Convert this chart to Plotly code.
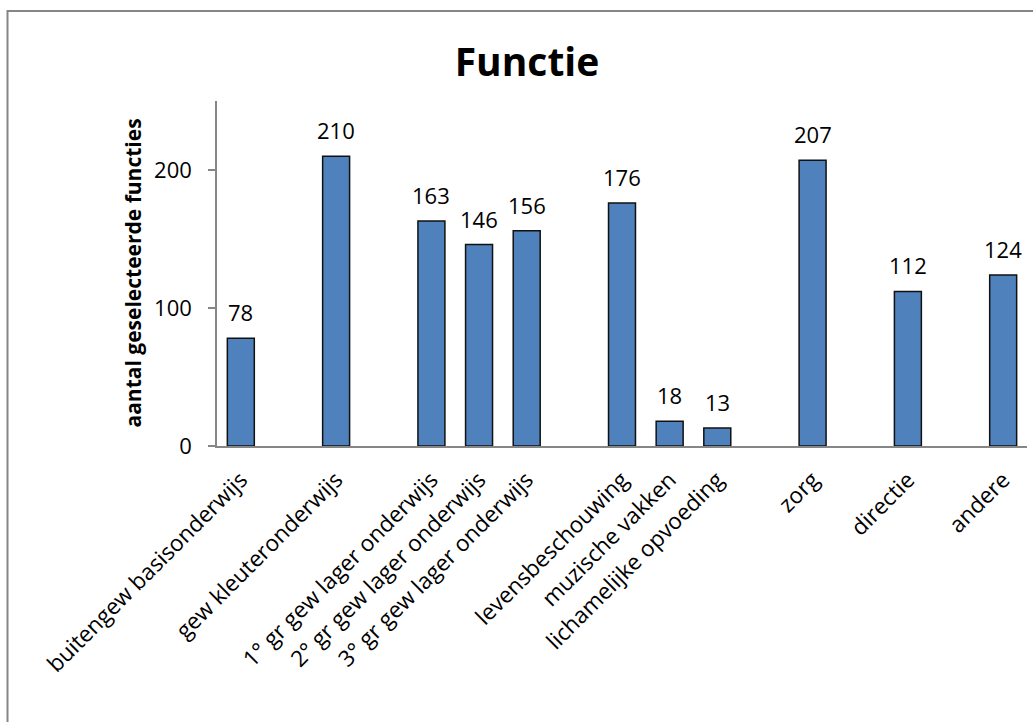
import plotly.graph_objects as go

# Functions selected; blank slots keep the group spacing on the category axis
categories = [
    "buitengew basisonderwijs", " ",
    "gew kleuteronderwijs", "  ",
    "1° gr gew lager onderwijs", "2° gr gew lager onderwijs", "3° gr gew lager onderwijs", "   ",
    "levensbeschouwing", "muzische vakken", "lichamelijke opvoeding", "    ",
    "zorg", "     ",
    "directie", "      ",
    "andere",
]
values = [78, None, 210, None, 163, 146, 156, None, 176, 18, 13, None, 207, None, 112, None, 124]
y_ticks = [0, 100, 200]

W, H = 1033, 722
ML, MR, MT, MB = 217, 6, 101, 276
BODY_FONT = "Open Sans"
AXIS_GREY = "#868686"

fig = go.Figure(
    go.Bar(
        x=categories,
        y=values,
        marker=dict(color="#4F81BD", line=dict(color="#111111", width=1.5)),
        hoverinfo="x+y",
    )
)

# value labels above each bar
for cat, v in zip(categories, values):
    if v is None:
        continue
    fig.add_annotation(
        x=cat, y=v, text=str(v), showarrow=False,
        yanchor="bottom", yshift=9,
        font=dict(family=BODY_FONT, size=22, color="#000000"),
    )

# y axis title
fig.add_annotation(
    xref="paper", yref="paper",
    x=(132 - ML) / (W - ML - MR), y=0.5,
    text="<b>aantal geselecteerde functies</b>", textangle=-90,
    showarrow=False, xanchor="center", yanchor="middle",
    font=dict(family=BODY_FONT, size=21, color="#000000"),
)

# outer chart frame
pw, ph = W - ML - MR, H - MT - MB
fig.add_shape(
    type="rect", xref="paper", yref="paper",
    x0=(7.5 - ML) / pw, x1=(W + 10 - ML) / pw,
    y0=(H - MB - (H + 10)) / ph, y1=(H - MB - 11) / ph,
    line=dict(color=AXIS_GREY, width=2), fillcolor="rgba(0,0,0,0)", layer="below",
)

fig.update_layout(
    width=W, height=H,
    margin=dict(l=ML, r=MR, t=MT, b=MB, autoexpand=False),
    paper_bgcolor="white", plot_bgcolor="white",
    bargap=0.434,
    showlegend=False,
    title=dict(
        text="<b>Functie</b>",
        font=dict(family=BODY_FONT, size=39, color="#000000"),
        x=527 / W, xanchor="center", xref="container",
        y=1 - 62 / H, yanchor="middle", yref="container",
    ),
    font=dict(family=BODY_FONT, color="#000000"),
)

fig.update_xaxes(
    type="category",
    categoryorder="array", categoryarray=categories,
    showline=True, linecolor=AXIS_GREY, linewidth=1.5,
    ticks="", tickangle=-45, ticklabelstandoff=10,
    tickfont=dict(family=BODY_FONT, size=22.5, color="#000000"),
    showgrid=False, zeroline=False,
)

fig.update_yaxes(
    range=[0, 250],
    tickvals=y_ticks,
    showline=True, linecolor=AXIS_GREY, linewidth=1.5,
    ticks="outside", ticklen=7, tickcolor=AXIS_GREY, tickwidth=1.5,
    ticklabelstandoff=12,
    tickfont=dict(family=BODY_FONT, size=22, color="#000000"),
    showgrid=False, zeroline=False,
)

fig.write_html("out.html")
